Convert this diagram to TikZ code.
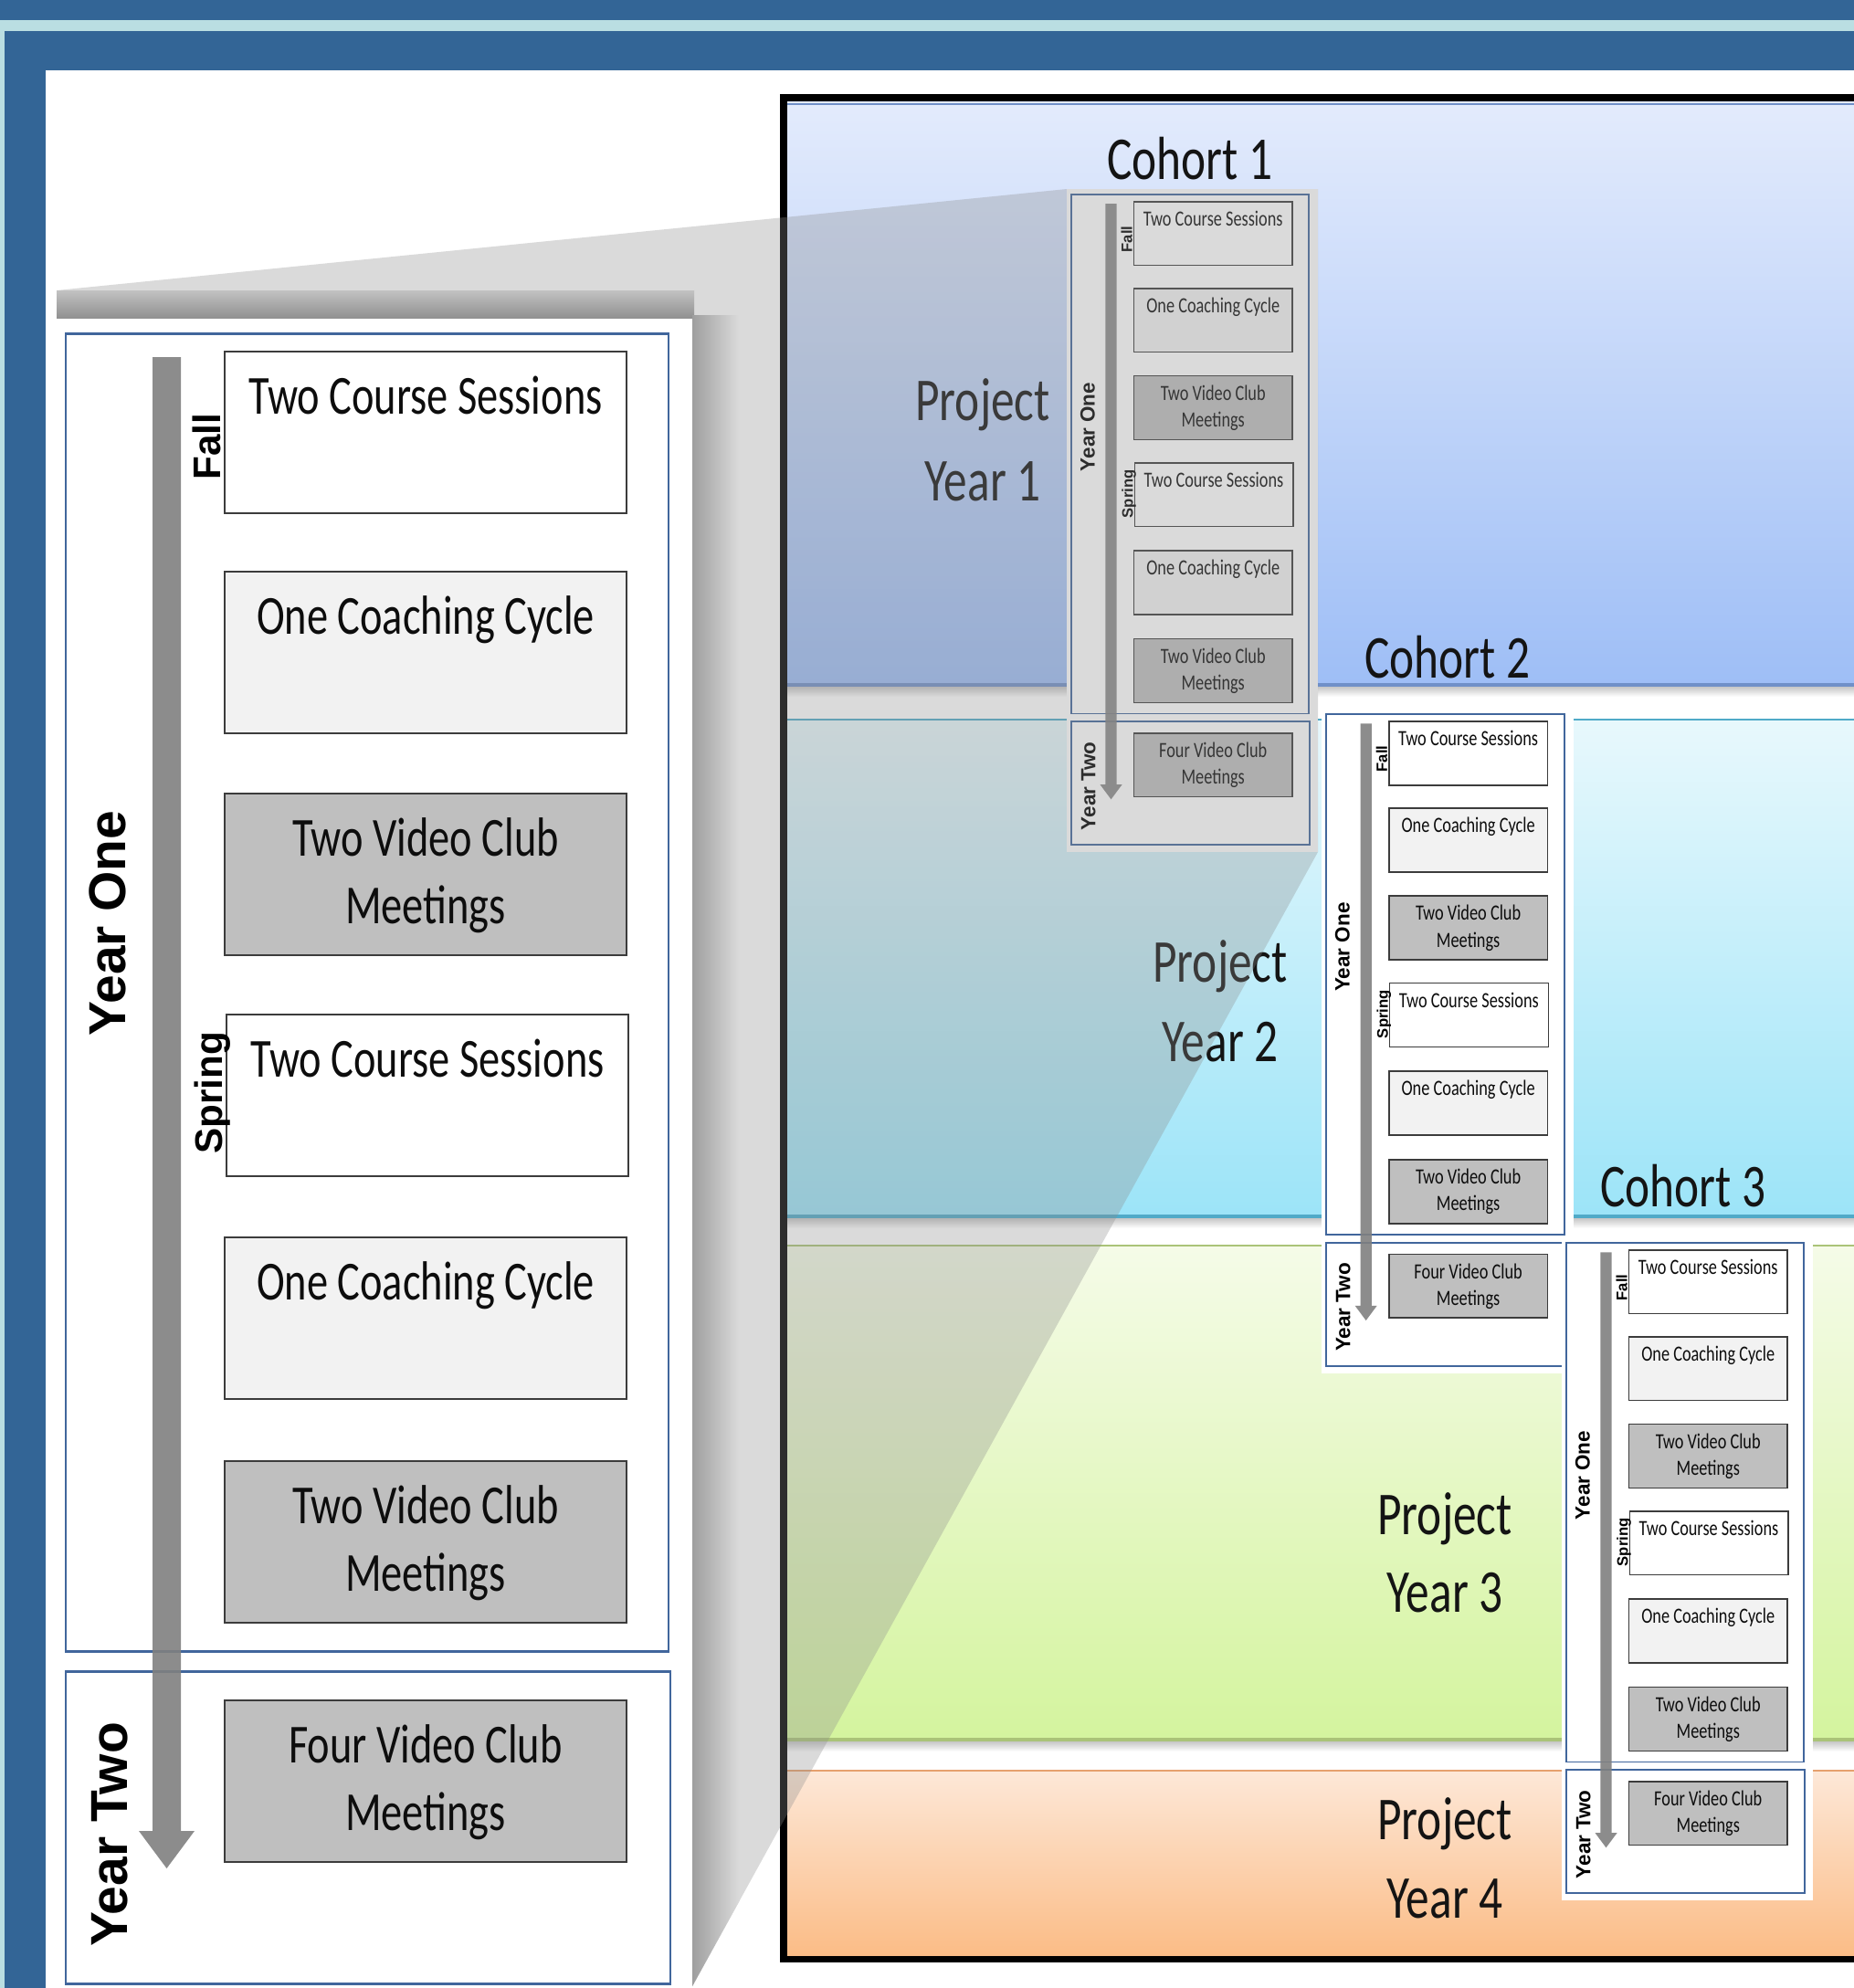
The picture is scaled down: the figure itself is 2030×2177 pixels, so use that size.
\documentclass[tikz,border=0pt]{standalone}
\usepackage{fontspec}
\setmainfont{Carlito}
\newfontfamily\boldsans{Liberation Sans}
\newcommand{\vstretch}[1]{\scalebox{1}[1.3]{#1}}

\definecolor{slideblue}{RGB}{51,101,150}
\definecolor{slidelight}{RGB}{186,222,226}
\definecolor{panelblue}{RGB}{65,102,156}
\definecolor{boxline}{RGB}{60,60,60}
\definecolor{boxlight}{RGB}{242,242,242}
\definecolor{boxgrey}{RGB}{191,191,191}
\definecolor{arrowgrey}{RGB}{128,128,128}
\definecolor{bonetop}{RGB}{227,235,252}
\definecolor{bonebot}{RGB}{158,190,246}
\definecolor{boneline}{RGB}{112,144,200}
\definecolor{btwotop}{RGB}{232,248,252}
\definecolor{btwobot}{RGB}{156,228,248}
\definecolor{btwoline}{RGB}{80,170,200}
\definecolor{bthreetop}{RGB}{245,251,232}
\definecolor{bthreebot}{RGB}{212,244,158}
\definecolor{bthreeline}{RGB}{170,195,120}
\definecolor{bfourtop}{RGB}{253,232,216}
\definecolor{bfourbot}{RGB}{251,188,134}
\definecolor{bfourline}{RGB}{230,160,110}

\tikzset{
 cbox/.style={rectangle, draw=boxline, minimum width=44mm, minimum height=17.7mm, anchor=north west, inner sep=0pt, outer sep=0pt},
 yearbox/.style={rectangle, draw=panelblue, anchor=north west, inner sep=0pt, outer sep=0pt},
 ctext/.style={anchor=base, inner sep=0pt, font=\fontsize{13.2}{16}\selectfont, text=black!95},
 yearlbl/.style={rotate=90, anchor=base, inner sep=0pt, font=\boldsans\bfseries\fontsize{16.2}{18}\selectfont},
 seasonlbl/.style={rotate=90, anchor=base, inner sep=0pt, font=\boldsans\bfseries\fontsize{12}{14}\selectfont},
 bigtext/.style={anchor=base, inner sep=0pt, font=\fontsize{14.6}{17}\selectfont, text=black!92},
}

\newcommand{\cohort}[6]{%
\begin{scope}[shift={(#2,#3)}, scale=#4, every node/.append style={transform shape}]
 \fill[white] (-12,-16) rectangle (686,1827);
 \node[yearbox, line width=#6, minimum width=66mm, minimum height=144.3mm] (#1yone) at (0,0) {};
 \node[yearbox, line width=#6, minimum width=66.2mm, minimum height=34.2mm] (#1ytwo) at (0,1465) {};
 \node[cbox, line width=#5, fill=white] (#1a) at (174,20) {};
 \node[cbox, line width=#5, fill=boxlight] (#1b) at (174,261) {};
 \node[cbox, line width=#5, fill=boxgrey] (#1c) at (174,504) {};
 \node[cbox, line width=#5, fill=white] (#1d) at (176,746) {};
 \node[cbox, line width=#5, fill=boxlight] (#1e) at (174,990) {};
 \node[cbox, line width=#5, fill=boxgrey] (#1f) at (174,1235) {};
 \node[cbox, line width=#5, fill=boxgrey] (#1g) at (174,1497) {};
 \node[ctext] (#1at) at (394,88) {\vstretch{Two Course Sessions}};
 \node[ctext] (#1bt) at (394,329) {\vstretch{One Coaching Cycle}};
 \node[ctext] (#1ct) at (394,572) {\vstretch{Two Video Club}};
 \node[ctext] (#1cu) at (394,646) {\vstretch{Meetings}};
 \node[ctext] (#1dt) at (396,814) {\vstretch{Two Course Sessions}};
 \node[ctext] (#1et) at (394,1058) {\vstretch{One Coaching Cycle}};
 \node[ctext] (#1ft) at (394,1303) {\vstretch{Two Video Club}};
 \node[ctext] (#1fu) at (394,1377) {\vstretch{Meetings}};
 \node[ctext] (#1gt) at (394,1565) {\vstretch{Four Video Club}};
 \node[ctext] (#1gu) at (394,1639) {\vstretch{Meetings}};
 \node[yearlbl] (#1lone) at (65,646) {Year One};
 \node[yearlbl] (#1ltwo) at (67,1644) {Year Two};
 \node[seasonlbl] (#1fall) at (169,124) {Fall};
 \node[seasonlbl] (#1spring) at (171,832) {Spring};
 \fill[arrowgrey, opacity=0.9] (95,26) -- (126,26) -- (126,1640) -- (141,1640) -- (110.5,1681) -- (80,1640) -- (95,1640) -- cycle;
\end{scope}}

\begin{document}
\begin{tikzpicture}[x=0.1mm, y=-0.1mm]
\useasboundingbox (0,0) rectangle (2030,2177);
\clip (0,0) rectangle (2030,2177);
% slide background
\fill[slideblue] (0,0) rectangle (2030,2177);
\fill[slidelight] (0,22) rectangle (2030,34);
\fill[slidelight] (0,34) rectangle (5,2177);
\fill[white] (50,77) rectangle (2030,2177);

% bands
\shade[top color=bonetop, bottom color=bonebot] (862,111) rectangle (2040,751);
\draw[boneline, line width=0.8pt] (862,114) -- (2040,114);
\draw[boneline, line width=1pt] (862,750) -- (2040,750);
\shade[top color=black!22, bottom color=white] (862,752) rectangle (2040,763);

\shade[top color=btwotop, bottom color=btwobot] (862,787) rectangle (2040,1333);
\draw[btwoline, line width=0.6pt] (862,788) -- (2040,788);
\draw[btwoline, line width=1pt] (862,1332) -- (2040,1332);
\shade[top color=black!22, bottom color=white] (862,1334) rectangle (2040,1345);

\shade[top color=bthreetop, bottom color=bthreebot] (862,1363) rectangle (2040,1906);
\draw[bthreeline, line width=0.6pt] (862,1364) -- (2040,1364);
\draw[bthreeline, line width=1pt] (862,1905) -- (2040,1905);
\shade[top color=black!22, bottom color=white] (862,1907) rectangle (2040,1918);

\shade[top color=bfourtop, bottom color=bfourbot] (862,1938) rectangle (2040,2142);
\draw[bfourline, line width=0.6pt] (862,1939) -- (2040,1939);

% frame
\draw[line width=2pt] (858,107) rectangle (2045,2145);

% project year labels
\node[bigtext] (pya) at (1076,460) {\vstretch{Project}};
\node[bigtext] (pyb) at (1076,548) {\vstretch{Year 1}};
\node[bigtext] (pyc) at (1336,1075) {\vstretch{Project}};
\node[bigtext] (pyd) at (1336,1162) {\vstretch{Year 2}};
\node[bigtext] (pye) at (1582,1680) {\vstretch{Project}};
\node[bigtext] (pyf) at (1582,1765) {\vstretch{Year 3}};
\node[bigtext] (pyg) at (1582,2014) {\vstretch{Project}};
\node[bigtext] (pyh) at (1582,2100) {\vstretch{Year 4}};

% cohort 1 (under the magnifier overlay)
\cohort{cA}{1173}{213}{0.394}{0.45pt}{0.5pt}

% magnifier overlay
\begin{scope}
\clip (62,318) -- (1168,207) -- (1443,207) -- (1443,933) -- (757,2177) -- (62,2177) -- cycle;
\fill[black!45, fill opacity=0.32] (0,0) rectangle (2030,2177);
\shade[top color=black!24, bottom color=black!44] (62,318) rectangle (760,349);
\shade[left color=black!38, right color=black!14] (758,345) rectangle (810,2177);
\end{scope}

% enlarged panel
\cohort{big}{72}{365}{1}{0.8pt}{0.85pt}

% cohorts 2 and 3
\cohort{cB}{1452}{782}{0.395}{0.45pt}{0.5pt}
\cohort{cC}{1715}{1361}{0.394}{0.45pt}{0.5pt}

% cohort labels
\node[bigtext] (coa) at (1303,196) {\vstretch{Cohort 1}};
\node[bigtext] (cob) at (1585,742) {\vstretch{Cohort 2}};
\node[bigtext] (coc) at (1843,1321) {\vstretch{Cohort 3}};
\end{tikzpicture}
\end{document}
